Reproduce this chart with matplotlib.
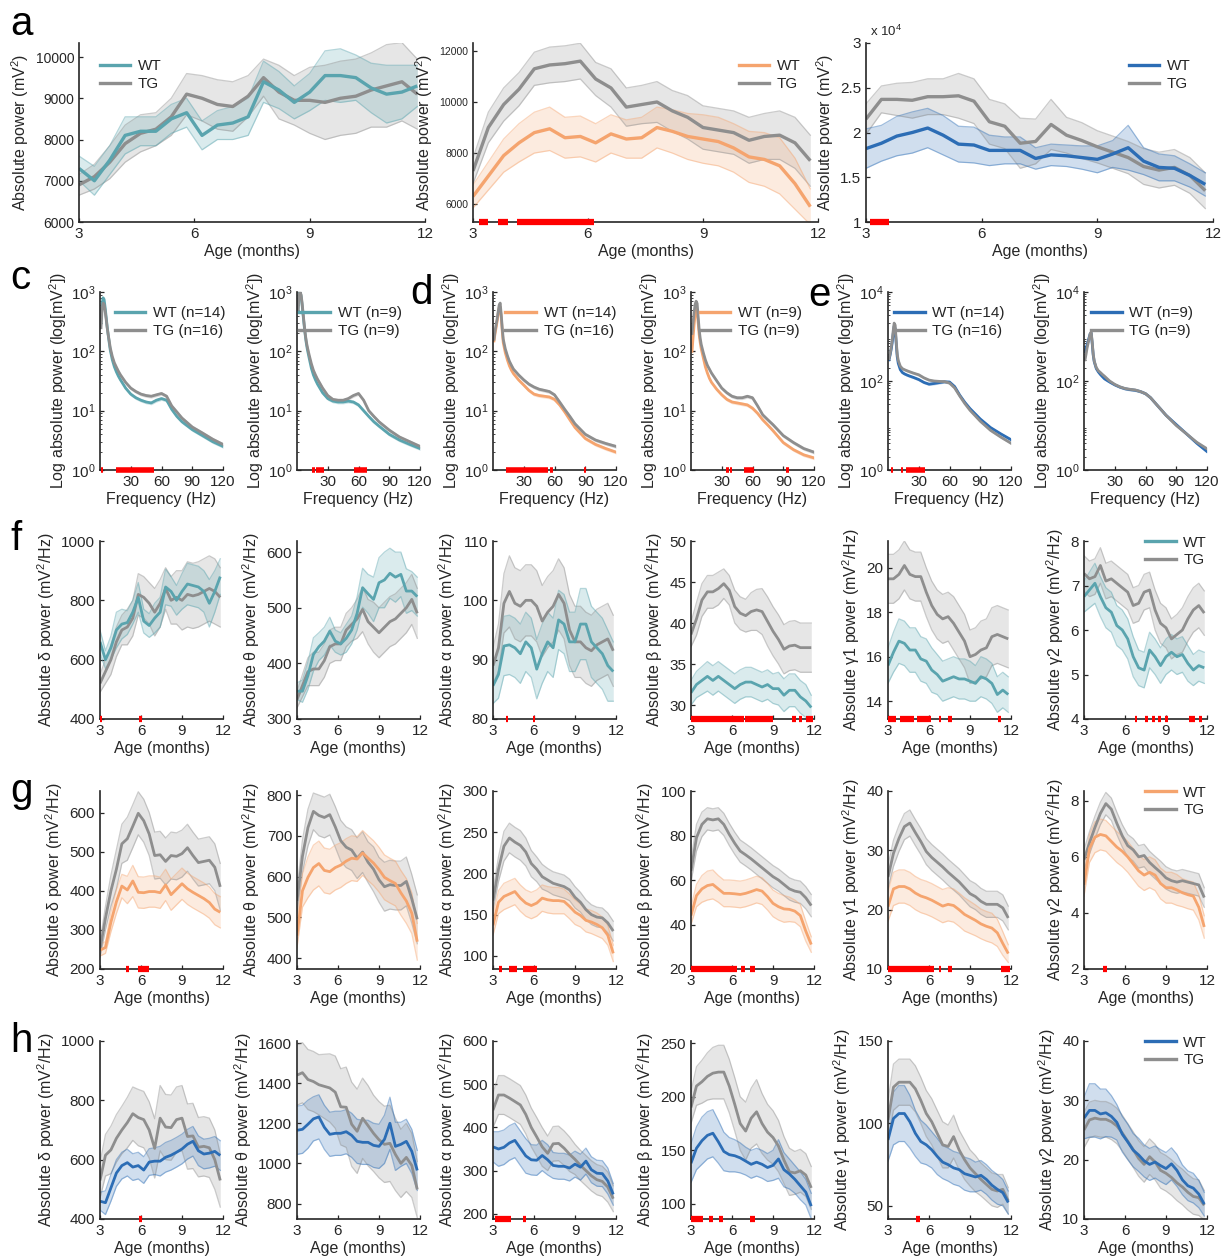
import numpy as np
import matplotlib
matplotlib.use("Agg")
import matplotlib.pyplot as plt
from matplotlib.lines import Line2D
from matplotlib.ticker import LogLocator, NullFormatter

plt.rcParams.update({
    "font.family": ["Liberation Sans", "DejaVu Sans"],
    "mathtext.fontset": "custom",
    "mathtext.rm": "Liberation Sans",
    "mathtext.it": "Liberation Sans:italic",
    "mathtext.bf": "Liberation Sans:bold",
    "axes.linewidth": 1.2,
    "axes.edgecolor": "#262626",
    "text.color": "#262626",
    "axes.labelcolor": "#262626",
    "xtick.color": "#262626",
    "ytick.color": "#262626",
    "xtick.direction": "in",
    "ytick.direction": "in",
    "xtick.major.size": 3,
    "ytick.major.size": 3,
    "xtick.minor.size": 1.5,
    "ytick.minor.size": 1.5,
    "xtick.major.width": 0.9,
    "ytick.major.width": 0.9,
    "font.size": 11,
    "axes.labelsize": 11.5,
    "xtick.labelsize": 11,
    "ytick.labelsize": 11,
})

TEAL = "#5aa4ae"
ORANGE = "#f5a46e"
BLUE = "#2c6db5"
GREY = "#8e8e8e"
RED = "#ff0000"

# ---------------------------------------------------------------- data
AGE = [3.0, 3.4, 3.8, 4.2, 4.6, 5.0, 5.4, 5.8, 6.2, 6.6, 7.0, 7.4,
       7.8, 8.2, 8.6, 9.0, 9.4, 9.8, 10.2, 10.6, 11.0, 11.4, 11.8]

# a: broadband absolute power (mV^2), mean and s.e.m.
A1_WT = [7300, 7000, 7500, 8100, 8200, 8200, 8500, 8650, 8100, 8350, 8400, 8550,
         9400, 9200, 8900, 9150, 9550, 9550, 9500, 9250, 9100, 9150, 9300]
A1_WT_E = [300, 350, 350, 450, 350, 350, 350, 350, 350, 350, 400, 450,
           500, 450, 400, 450, 600, 650, 550, 600, 700, 650, 500]
A1_TG = [6900, 7100, 7450, 7900, 8150, 8250, 8550, 9100, 9000, 8850, 8800, 9050,
         9500, 9150, 8950, 8950, 8900, 9000, 9050, 9200, 9300, 9400, 9100]
A1_TG_E = [250, 300, 400, 450, 450, 400, 450, 500, 550, 600, 600, 500,
           450, 650, 600, 800, 900, 900, 900, 900, 1000, 950, 850]
A1_SIG = []

A2_WT = [6300, 7100, 7900, 8400, 8800, 8950, 8600, 8650, 8400, 8750, 8550, 8600,
         9000, 8850, 8650, 8550, 8450, 8200, 7850, 7750, 7500, 6800, 5900]
A2_WT_E = [450, 550, 650, 750, 800, 850, 800, 800, 750, 750, 750, 800,
           800, 850, 900, 950, 950, 950, 1000, 1050, 1100, 1000, 700]
A2_TG = [7300, 9000, 9900, 10500, 11300, 11450, 11500, 11600, 10900, 10550, 9800, 9900,
         10000, 9650, 9400, 9000, 8900, 8800, 8500, 8650, 8700, 8400, 7700]
A2_TG_E = [500, 600, 650, 650, 650, 700, 700, 700, 650, 750, 750, 750,
           800, 800, 850, 850, 850, 850, 900, 900, 950, 1000, 1000]
A2_SIG = [(3.15, 3.4), (3.65, 3.9), (4.15, 6.15)]

# third panel in units of 10^4 mV^2
A3_WT = [1.82, 1.88, 1.96, 2.00, 2.05, 1.97, 1.87, 1.86, 1.80, 1.80, 1.80, 1.71,
         1.75, 1.74, 1.72, 1.70, 1.76, 1.83, 1.68, 1.61, 1.60, 1.52, 1.42]
A3_WT_E = [0.22, 0.20, 0.22, 0.23, 0.22, 0.22, 0.20, 0.20, 0.17, 0.15, 0.15, 0.12,
           0.12, 0.12, 0.13, 0.15, 0.15, 0.25, 0.15, 0.15, 0.14, 0.13, 0.13]
A3_TG = [2.15, 2.37, 2.37, 2.36, 2.40, 2.40, 2.41, 2.35, 2.12, 2.07, 1.88, 1.90,
         2.09, 1.97, 1.91, 1.84, 1.78, 1.72, 1.62, 1.58, 1.61, 1.52, 1.35]
A3_TG_E = [0.17, 0.15, 0.18, 0.20, 0.20, 0.20, 0.25, 0.25, 0.25, 0.25, 0.28, 0.25,
           0.28, 0.20, 0.20, 0.18, 0.18, 0.18, 0.20, 0.20, 0.20, 0.20, 0.20]
A3_SIG = [(3.1, 3.6)]

# c-e: power spectra
FREQ = [1, 2, 3, 4, 5, 6, 7, 8, 9, 10, 12, 14, 16, 18, 20, 25, 30, 35, 40, 45,
        50, 55, 60, 65, 70, 75, 80, 90, 100, 110, 120]
C1_WT = [300, 600, 800, 750, 550, 380, 260, 190, 140, 105, 72, 55, 45, 38, 33, 24, 19,
         16.5, 15, 14, 13.5, 15, 16, 15, 10.5, 8, 6.5, 4.8, 3.8, 3.0, 2.5]
C1_TG = [250, 500, 650, 620, 480, 350, 250, 190, 150, 115, 82, 64, 54, 46, 40, 30, 24,
         21, 19, 18, 17.5, 18.5, 19.5, 17.5, 12, 9.5, 7.5, 5.3, 4.2, 3.3, 2.7]
C1_SIG = [(0.5, 2.5), (15.5, 53)]
C2_WT = [500, 950, 1000, 850, 600, 400, 270, 190, 140, 110, 75, 52, 40, 33, 28, 20, 16,
         14.5, 14, 14, 14.5, 14, 12.5, 10, 8, 6.5, 5.5, 4.0, 3.2, 2.7, 2.3]
C2_TG = [450, 900, 1000, 900, 650, 430, 290, 200, 150, 120, 85, 62, 48, 40, 34, 24, 18,
         15.5, 15, 15, 16, 18, 19.5, 15, 10, 8, 6.5, 4.7, 3.6, 3.0, 2.5]
C2_SIG = [(15, 18), (19, 26), (56, 68)]
D1_WT = [150, 200, 250, 320, 420, 540, 560, 380, 220, 140, 95, 72, 57, 48, 42, 33, 27,
         22, 19, 18, 17.5, 17, 15.5, 12.5, 9.5, 7, 5.2, 3.4, 2.7, 2.3, 2.0]
D1_TG = [160, 220, 280, 350, 460, 600, 650, 420, 250, 160, 110, 85, 68, 58, 50, 40, 33,
         28, 25, 23, 22, 21, 18.5, 14, 10.5, 8, 6, 4, 3.2, 2.8, 2.5]
D1_SIG = [(12.3, 53.4), (56, 58.6), (88.3, 90.6)]
D2_WT = [100, 170, 280, 420, 510, 480, 300, 190, 140, 110, 78, 55, 43, 35, 30, 23, 18.5,
         15.5, 14, 13.5, 13, 12.5, 11, 9, 7, 5.7, 4.6, 2.9, 2.2, 1.8, 1.6]
D2_TG = [200, 300, 450, 620, 700, 640, 380, 230, 165, 130, 95, 72, 58, 50, 43, 32, 24,
         20, 17.5, 16.5, 16.5, 17.5, 16.5, 12, 8.5, 7, 5.8, 3.8, 2.9, 2.3, 2.0]
D2_SIG = [(34.2, 37.5), (38, 39.8), (51.8, 61.6), (92.6, 95.9)]
E1_WT = [300, 380, 500, 700, 1100, 1700, 1500, 700, 350, 250, 180, 155, 145, 138, 132,
         120, 108, 93, 85, 88, 92, 96, 95, 75, 48, 33, 24, 14, 9, 6.5, 4.8]
E1_TG = [320, 400, 550, 800, 1300, 2000, 1800, 800, 400, 290, 215, 190, 180, 172, 165,
         150, 138, 118, 105, 100, 98, 97, 90, 70, 46, 31, 22, 12.5, 7.8, 5.5, 4.0]
E1_SIG = [(3.3, 4.7), (12.3, 15), (17.3, 35.7)]
E2_WT = [450, 550, 650, 780, 950, 1150, 1200, 700, 380, 270, 190, 160, 140, 125, 112,
         95, 82, 73, 67, 64, 62, 58, 52, 42, 31, 23, 17, 10.5, 6.5, 4.0, 2.6]
E2_TG = [300, 400, 550, 700, 900, 1150, 1250, 750, 400, 280, 200, 170, 155, 140, 128,
         100, 84, 74, 68, 65, 63, 58, 52, 42, 31, 23, 17, 10, 6.5, 4.2, 3.0]
E2_SIG = []
SPEC_SEM = 0.07

# f: band power, first cohort
F1_WT = [660, 600, 640, 700, 720, 725, 760, 810, 730, 715, 740, 760,
         845, 830, 800, 830, 855, 850, 845, 830, 790, 830, 880]
F1_WT_E = [40, 30, 40, 60, 50, 40, 40, 50, 40, 40, 50, 50, 60, 50, 50, 60, 70, 70, 70, 70, 80, 70, 60]
F1_TG = [520, 560, 600, 660, 700, 710, 740, 820, 810, 790, 760, 790,
         840, 800, 810, 800, 820, 815, 820, 830, 840, 830, 810]
F1_TG_E = [30, 40, 50, 50, 50, 60, 60, 70, 70, 70, 80, 80, 70, 80, 90, 100, 110, 110, 110, 110, 110, 110, 100]
F1_SIG = [(3.0, 3.12), (5.85, 6.1)]

F2_WT = [350, 350, 378, 416, 430, 440, 458, 440, 435, 445, 460, 490,
         536, 525, 515, 545, 550, 562, 555, 560, 530, 530, 520]
F2_WT_E = [15, 20, 25, 30, 25, 25, 25, 20, 20, 25, 25, 30, 35, 35, 40, 45, 50, 45, 45, 40, 40, 35, 35]
F2_TG = [335, 360, 385, 390, 390, 405, 430, 435, 435, 460, 470, 480,
         497, 475, 465, 455, 465, 475, 480, 490, 500, 515, 490]
F2_TG_E = [15, 20, 25, 30, 30, 30, 30, 30, 30, 30, 30, 35, 40, 40, 45, 45, 45, 45, 45, 45, 45, 45, 45]
F2_SIG = []

F3_WT = [85.6, 87.5, 92.3, 92.5, 92, 91, 93, 92, 88.4, 91, 93, 92,
         96.7, 96, 93, 93, 96, 96, 93, 92, 91, 89, 88]
F3_WT_E = [3, 4, 5, 5, 5, 5, 5, 5, 5, 5, 5, 5, 5, 5, 5, 5, 6, 6, 6, 6, 6, 6, 5]
F3_TG = [89, 92, 99.5, 101.5, 99.5, 99, 100, 100, 99, 96.5, 98, 99,
         101, 99.5, 95, 93, 93, 92, 91.5, 92.5, 93, 93.5, 91.5]
F3_TG_E = [3, 4, 5, 6, 6, 6, 6, 6, 6, 6, 6, 6, 6, 6, 6, 6, 6, 6, 6, 6, 6, 6, 6]
F3_SIG = [(3.95, 4.1), (5.95, 6.1)]

F4_WT = [31.5, 32.5, 33, 33.5, 33, 33.5, 33, 32.5, 32, 32.5, 32.8, 32.8,
         32.5, 32.2, 32.5, 32, 32, 31.2, 31.8, 31.8, 31, 30.5, 29.7]
F4_WT_E = [1.5, 1.6, 1.7, 1.8, 1.8, 1.8, 1.8, 1.8, 1.8, 1.8, 1.8, 1.8,
           1.8, 1.8, 1.8, 1.8, 2, 2, 2, 2, 2, 2, 1.5]
F4_TG = [38.6, 40.5, 42.8, 43.8, 43.8, 44.2, 44.8, 44.0, 42.0, 41.2, 40.9, 41.4,
         41.6, 41.4, 40.2, 39.0, 38.0, 36.8, 37.2, 37.3, 37.0, 37.0, 37.0]
F4_TG_E = [1.5, 2, 2, 2, 2, 2, 1.8, 1.8, 2, 2, 2, 2.3, 2.5, 2.8, 3, 3, 3, 3, 3, 3, 3, 3, 3]
F4_SIG = [(3.0, 6.85), (6.95, 9.0), (10.4, 10.65), (10.9, 11.15), (11.4, 11.9)]

F5_WT = [15.6, 16.2, 16.7, 16.6, 16.3, 16.3, 15.9, 15.8, 15.4, 15.2, 14.9, 15.0,
         15.1, 15.0, 15.0, 14.9, 14.8, 15.1, 15.0, 14.8, 14.3, 14.5, 14.3]
F5_WT_E = [0.8, 0.9, 1.0, 1.0, 1.0, 1.0, 1.0, 1.0, 1.0, 0.9, 0.9, 0.9,
           0.9, 0.9, 0.9, 0.9, 0.8, 0.9, 0.9, 0.9, 0.8, 0.8, 0.8]
F5_TG = [19.5, 19.5, 19.7, 20.1, 19.7, 19.6, 19.6, 18.9, 18.3, 17.9, 17.7, 17.8,
         17.5, 17.1, 16.7, 16.0, 16.1, 16.3, 16.4, 16.9, 17.0, 16.9, 16.8]
F5_TG_E = [1.1, 1.1, 1.1, 1.1, 1.1, 1.1, 1.1, 1.1, 1.1, 1.1, 1.1, 1.1,
           1.2, 1.2, 1.2, 1.2, 1.2, 1.3, 1.3, 1.3, 1.3, 1.3, 1.3]
F5_SIG = [(3.0, 3.6), (3.9, 4.9), (5.15, 6.15), (6.7, 6.85), (7.4, 7.65), (11.05, 11.25)]

F6_WT = [6.75, 6.9, 7.05, 6.75, 6.5, 6.4, 6.1, 6.0, 5.8, 5.4, 5.15, 5.1,
         5.55, 5.4, 5.2, 5.4, 5.5, 5.4, 5.45, 5.25, 5.1, 5.2, 5.15]
F6_WT_E = [0.35, 0.4, 0.45, 0.45, 0.45, 0.45, 0.45, 0.45, 0.45, 0.45, 0.4, 0.4,
           0.4, 0.4, 0.4, 0.4, 0.4, 0.4, 0.4, 0.4, 0.35, 0.35, 0.35]
F6_TG = [7.27, 7.15, 7.2, 7.45, 7.1, 7.15, 7.05, 6.95, 6.85, 6.55, 6.6, 6.85,
         6.9, 6.45, 6.15, 6.05, 5.8, 5.9, 6.0, 6.25, 6.45, 6.55, 6.38]
F6_TG_E = [0.4, 0.4, 0.4, 0.4, 0.4, 0.4, 0.4, 0.4, 0.4, 0.4, 0.4, 0.4,
           0.4, 0.45, 0.45, 0.45, 0.45, 0.45, 0.5, 0.5, 0.5, 0.5, 0.5]
F6_SIG = [(6.7, 6.9), (7.45, 7.65), (7.95, 8.2), (8.45, 8.65), (8.9, 9.15),
          (10.7, 11.15), (11.4, 11.65)]

# g: band power, second cohort
G1_WT = [248, 255, 320, 372, 412, 402, 425, 396, 395, 398, 398, 395,
         415, 390, 404, 418, 405, 396, 388, 380, 370, 353, 345]
G1_WT_E = [15, 15, 25, 30, 30, 35, 40, 40, 40, 40, 40, 40, 40, 40, 40, 40, 40, 40, 40, 40, 40, 40, 40]
G1_TG = [250, 330, 400, 455, 520, 533, 565, 598, 579, 545, 490, 492,
         475, 490, 488, 495, 510, 490, 472, 475, 478, 460, 410]
G1_TG_E = [20, 30, 40, 50, 50, 55, 55, 55, 55, 55, 60, 60, 60, 60, 60, 60, 60, 60, 60, 60, 60, 60, 60]
G1_SIG = [(4.9, 5.1), (5.8, 6.6)]

G2_WT = [455, 565, 598, 622, 632, 615, 612, 622, 628, 638, 645, 643,
         658, 645, 633, 617, 598, 590, 583, 560, 540, 510, 440]
G2_WT_E = [30, 40, 50, 55, 55, 55, 55, 55, 55, 55, 55, 55, 55, 55, 55, 55, 55, 55, 55, 55, 55, 50, 45]
G2_TG = [540, 650, 720, 760, 750, 745, 752, 722, 688, 672, 665, 645,
         660, 635, 618, 592, 575, 580, 578, 578, 588, 545, 495]
G2_TG_E = [30, 40, 45, 45, 50, 50, 50, 50, 50, 50, 50, 50, 50, 50, 55, 55, 60, 60, 60, 60, 60, 60, 60]
G2_SIG = []

G3_WT = [137, 165, 172, 175, 178, 170, 164, 161, 164, 170, 168, 167,
         167, 166, 160, 153, 149, 143, 141, 138, 134, 125, 103]
G3_WT_E = [12, 14, 16, 16, 16, 16, 16, 16, 16, 16, 16, 16, 16, 15, 15, 15, 14, 14, 14, 14, 13, 12, 10]
G3_TG = [167, 205, 233, 243, 238, 234, 226, 212, 205, 196, 192, 188,
         186, 184, 180, 171, 165, 156, 150, 147, 146, 140, 130]
G3_TG_E = [12, 15, 18, 18, 18, 18, 17, 16, 15, 15, 14, 14, 14, 14, 13, 13, 12, 12, 12, 12, 12, 12, 12]
G3_SIG = [(3.44, 3.67), (4.16, 4.74), (5.18, 6.19)]

G4_WT = [44, 53, 56, 57.5, 58, 56, 54, 54, 53.8, 53.5, 54, 54.8,
         55.7, 55, 52.5, 49.5, 48, 47, 46.8, 46, 44, 37, 31]
G4_WT_E = [4, 5, 6, 6.5, 6.5, 6, 6, 6, 6, 6, 6, 6, 6, 6, 6, 6, 6, 6, 5.5, 5, 5, 4.5, 3.5]
G4_TG = [64, 79, 85, 87.5, 87, 87.5, 85, 80.5, 76.5, 73, 71.3, 69.5,
         67.5, 65.5, 63.5, 61.5, 60, 58, 56, 55, 54.5, 52, 48.5]
G4_TG_E = [5, 6, 5.5, 5, 5, 5, 5, 5, 5, 5, 5, 5, 5, 5, 5, 5, 5, 5, 5, 5, 5, 5, 5]
G4_SIG = [(3.0, 6.34), (6.63, 6.92), (7.35, 7.65)]

G5_WT = [20.5, 23.5, 23.9, 23.9, 23.5, 22.8, 22.3, 22, 21.6, 21.1, 20.6, 20.9,
         20.7, 20, 19.2, 18.7, 18.2, 17.6, 17.2, 16.9, 16.1, 14.3, 12.6]
G5_WT_E = [2.5, 2.8, 2.8, 2.8, 2.8, 2.8, 2.8, 2.8, 2.8, 2.8, 2.8, 2.8,
           2.8, 2.8, 2.8, 2.7, 2.6, 2.5, 2.5, 2.5, 2.3, 2.0, 1.5]
G5_TG = [25.5, 29.5, 32, 34, 34.6, 33, 31.5, 29.8, 28.8, 28, 27.2, 26.3,
         25.5, 24.7, 23.7, 22.7, 22.2, 21.4, 20.9, 20.9, 20.9, 20.3, 18.6]
G5_TG_E = [2, 2.2, 2.2, 2.2, 2.2, 2.2, 2.2, 2.2, 2.2, 2.2, 2.2, 2.2,
           2.2, 2.2, 2.2, 2.2, 2.2, 2.2, 2.2, 2.2, 2.2, 2.2, 2]
G5_SIG = [(3.0, 6.4), (6.7, 6.9), (7.4, 7.65), (11.25, 11.95)]

G6_WT = [5.0, 6.3, 6.7, 6.8, 6.75, 6.55, 6.35, 6.2, 6.0, 5.75, 5.5, 5.35,
         5.45, 5.35, 5.05, 4.9, 4.9, 4.82, 4.72, 4.65, 4.6, 4.2, 3.5]
G6_WT_E = [0.4, 0.5, 0.55, 0.55, 0.55, 0.55, 0.55, 0.55, 0.55, 0.55, 0.55, 0.55,
           0.55, 0.55, 0.55, 0.55, 0.55, 0.55, 0.5, 0.5, 0.5, 0.45, 0.4]
G6_TG = [5.9, 6.5, 7.05, 7.55, 7.9, 7.7, 7.2, 6.75, 6.4, 6.25, 6.0, 6.05,
         5.8, 5.62, 5.45, 5.25, 5.15, 5.1, 5.15, 5.1, 5.05, 5.0, 4.55]
G6_TG_E = [0.35, 0.4, 0.4, 0.4, 0.4, 0.4, 0.4, 0.4, 0.4, 0.4, 0.4, 0.4,
           0.4, 0.4, 0.4, 0.4, 0.4, 0.4, 0.4, 0.4, 0.4, 0.4, 0.35]
G6_SIG = [(4.37, 4.66)]

# h: band power, third cohort
H1_WT = [460, 455, 505, 555, 580, 590, 575, 580, 565, 592, 595, 595,
         608, 615, 625, 636, 652, 662, 630, 619, 622, 628, 614]
H1_WT_E = [30, 40, 45, 45, 45, 45, 45, 45, 45, 45, 45, 50, 50, 50, 50, 50, 50, 50, 50, 50, 50, 50, 50]
H1_TG = [530, 615, 633, 672, 700, 725, 755, 742, 735, 700, 638, 740,
         710, 708, 735, 740, 678, 680, 642, 645, 640, 600, 530]
H1_TG_E = [60, 70, 80, 80, 80, 85, 90, 95, 95, 95, 100, 110, 110, 110, 110, 110, 110, 110, 100, 100, 100, 100, 90]
H1_SIG = [(5.82, 6.05)]

H2_WT = [1165, 1170, 1195, 1222, 1232, 1180, 1145, 1150, 1150, 1158, 1140, 1110,
         1105, 1105, 1090, 1085, 1120, 1200, 1085, 1095, 1110, 1060, 965]
H2_WT_E = [120, 120, 120, 110, 110, 110, 110, 110, 110, 110, 110, 110,
           110, 110, 110, 110, 120, 130, 120, 110, 110, 110, 100]
H2_TG = [1440, 1452, 1418, 1408, 1392, 1384, 1376, 1355, 1282, 1280, 1195, 1160,
         1225, 1188, 1150, 1118, 1095, 1100, 1045, 1000, 1030, 990, 870]
H2_TG_E = [150, 150, 150, 150, 150, 160, 170, 180, 190, 200, 210, 210,
           200, 200, 190, 190, 190, 190, 180, 170, 170, 160, 140]
H2_SIG = []

H3_WT = [355, 350, 354, 364, 370, 352, 334, 325, 324, 335, 325, 312,
         310, 310, 306, 315, 308, 322, 302, 294, 293, 276, 245]
H3_WT_E = [35, 40, 40, 40, 40, 40, 40, 35, 35, 35, 35, 30, 30, 30, 30, 30, 30, 30, 30, 30, 30, 30, 25]
H3_TG = [440, 475, 475, 468, 460, 452, 430, 400, 378, 355, 340, 362,
         363, 352, 338, 326, 312, 300, 288, 279, 275, 262, 235]
H3_TG_E = [40, 45, 45, 45, 45, 45, 45, 45, 45, 45, 40, 40, 40, 40, 40, 35, 35, 35, 35, 35, 35, 35, 30]
H3_SIG = [(3.15, 4.3), (5.2, 5.45)]

H4_WT = [138, 152, 159, 164, 166, 158, 149, 146, 145, 143, 140, 137,
         139, 137, 134, 136, 142, 132, 128, 123, 117, 111, 98]
H4_WT_E = [18, 20, 22, 22, 22, 20, 18, 16, 15, 14, 13, 13, 13, 13, 13, 14, 18, 16, 14, 13, 13, 12, 12]
H4_TG = [190, 210, 214, 219, 222, 223, 223, 210, 193, 175, 168, 180,
         186, 175, 167, 162, 154, 141, 130, 129, 131, 127, 115]
H4_TG_E = [15, 18, 20, 22, 24, 25, 25, 25, 25, 25, 27, 28, 30, 28, 26, 25, 24, 22, 22, 20, 20, 20, 20]
H4_SIG = [(3.0, 3.87), (4.3, 4.6), (5.03, 5.32), (7.35, 7.65)]

H5_WT = [90, 103, 106, 106, 101, 94, 89, 87, 84, 80, 76.5, 75,
         73, 72, 69.5, 68.5, 67.5, 68.5, 66, 62.5, 60, 58, 52]
H5_WT_E = [13, 16, 17, 17, 16, 14, 13, 12, 11, 11, 10, 10, 10, 10, 10, 10, 9, 9, 9, 9, 9, 8, 7]
H5_TG = [102, 122, 125, 125, 125, 121, 114, 106, 101, 94, 87, 86,
         92, 84, 78, 73, 69.5, 66, 63, 60, 59, 60, 53]
H5_TG_E = [12, 14, 14, 14, 14, 14, 14, 14, 14, 14, 14, 13, 13, 12, 12, 11, 11, 10, 10, 10, 10, 9, 8]
H5_SIG = [(5.07, 5.36)]

H6_WT = [27, 28.3, 28.3, 27.7, 27.9, 27.3, 26.3, 24.3, 23.0, 21.6, 20.8, 19.8,
         19.2, 19.6, 19.0, 18.5, 19.3, 18.2, 16.6, 15.6, 15.2, 14.2, 12.5]
H6_WT_E = [3.5, 4.5, 4.5, 4.2, 4, 3.5, 3, 3, 3, 2.8, 2.8, 2.7,
           2.7, 2.7, 2.7, 2.7, 2.7, 2.7, 2.5, 2.5, 2.5, 2.3, 2.0]
H6_TG = [25, 26.7, 27, 26.8, 26.8, 26.4, 25.7, 24.5, 23.1, 21.7, 20.2, 19.2,
         20.5, 19.6, 18.2, 17.7, 17, 16.1, 15.4, 14.5, 13.8, 13.6, 12.3]
H6_TG_E = [3, 3, 3, 3, 3, 3, 3, 3, 3, 3, 3, 3, 3, 3, 3, 3, 3, 3, 3, 3, 3, 3, 2.5]
H6_SIG = []

BAND_LABELS = ["Absolute δ power (mV$^2$/Hz)", "Absolute θ power (mV$^2$/Hz)",
               "Absolute α power (mV$^2$/Hz)", "Absolute β power (mV$^2$/Hz)",
               "Absolute γ1 power (mV$^2$/Hz)", "Absolute γ2 power (mV$^2$/Hz)"]

# ---------------------------------------------------------------- figure
W, H = 1228, 1258
fig = plt.figure(figsize=(W / 100, H / 100), dpi=100)
fig.patch.set_facecolor("white")


def add_axes(left, top, width, height):
    return fig.add_axes([left / W, 1 - (top + height) / H, width / W, height / H])


def clean(ax):
    for s in ("top", "right"):
        ax.spines[s].set_visible(False)


def band(ax, x, mean, err, color):
    m = np.asarray(mean, float)
    e = np.asarray(err, float)
    ax.fill_between(x, m - e, m + e, color=color, alpha=0.22, lw=0)
    ax.plot(x, m - e, color=color, alpha=0.45, lw=0.9)
    ax.plot(x, m + e, color=color, alpha=0.45, lw=0.9)


def age_panel(ax, wt, wt_e, tg, tg_e, color, sig, ylim, yticks, ylabel, lw=2.0):
    x = np.asarray(AGE)
    band(ax, x, tg, tg_e, GREY)
    band(ax, x, wt, wt_e, color)
    ax.plot(x, tg, color=GREY, lw=lw, solid_capstyle="butt")
    ax.plot(x, wt, color=color, lw=lw, solid_capstyle="butt")
    for s, e in sig:
        ax.plot([s, e], [ylim[0], ylim[0]], color=RED, lw=4.5,
                solid_capstyle="butt", clip_on=False, zorder=6)
    ax.set_xlim(3, 12)
    ax.set_ylim(*ylim)
    ax.set_xticks([3, 6, 9, 12])
    ax.set_yticks(yticks)
    ax.set_xlabel("Age (months)", labelpad=2)
    ax.set_ylabel(ylabel, labelpad=3)
    clean(ax)


def legend(ax, color, labels, **kw):
    handles = [Line2D([], [], color=color, lw=2.4), Line2D([], [], color=GREY, lw=2.4)]
    ax.legend(handles, labels, frameon=False, handlelength=2.0, handletextpad=0.5,
              labelspacing=0.25, borderaxespad=0, borderpad=0, **kw)


# ---- row a
ax = add_axes(79, 43, 346, 179)
age_panel(ax, A1_WT, A1_WT_E, A1_TG, A1_TG_E, TEAL, A1_SIG, (6000, 10340),
          [6000, 7000, 8000, 9000, 10000], "Absolute power (mV$^2$)", lw=2.4)
ax.tick_params(axis="y", labelsize=10)
legend(ax, TEAL, ["WT", "TG"], loc="upper left", bbox_to_anchor=(0.06, 0.91))

ax = add_axes(473, 43, 345, 179)
age_panel(ax, A2_WT, A2_WT_E, A2_TG, A2_TG_E, ORANGE, A2_SIG, (5300, 12310),
          [6000, 8000, 10000, 12000], "Absolute power (mV$^2$)", lw=2.4)
ax.tick_params(axis="y", labelsize=7.5)
legend(ax, ORANGE, ["WT", "TG"], loc="upper right", bbox_to_anchor=(0.95, 0.91))

ax = add_axes(866, 43, 347, 179)
age_panel(ax, A3_WT, A3_WT_E, A3_TG, A3_TG_E, BLUE, A3_SIG, (1, 3),
          [1, 1.5, 2, 2.5, 3], "Absolute power (mV$^2$)", lw=2.4)
ax.set_yticklabels(["1", "1.5", "2", "2.5", "3"])
ax.text(0.012, 1.025, "x 10$^4$", transform=ax.transAxes, fontsize=9.5,
        ha="left", va="bottom")
legend(ax, BLUE, ["WT", "TG"], loc="upper right", bbox_to_anchor=(0.935, 0.91))

# ---- rows c-e: spectra
COL_LEFT = [100, 297, 493, 691, 888, 1084]
COL_W = 123

SPECTRA = [
    (C1_WT, C1_TG, TEAL, C1_SIG, (1, 1000), ["WT (n=14)", "TG (n=16)"], 1.02),
    (C2_WT, C2_TG, TEAL, C2_SIG, (1, 1000), ["WT (n=9)", "TG (n=9)"], 0.85),
    (D1_WT, D1_TG, ORANGE, D1_SIG, (1, 1000), ["WT (n=14)", "TG (n=16)"], 1.0),
    (D2_WT, D2_TG, ORANGE, D2_SIG, (1, 1000), ["WT (n=9)", "TG (n=9)"], 0.9),
    (E1_WT, E1_TG, BLUE, E1_SIG, (1, 10000), ["WT (n=14)", "TG (n=16)"], 0.95),
    (E2_WT, E2_TG, BLUE, E2_SIG, (1, 10000), ["WT (n=9)", "TG (n=9)"], 0.89),
]

for i, (wt, tg, color, sig, ylim, labels, lx) in enumerate(SPECTRA):
    ax = add_axes(COL_LEFT[i], 292, COL_W, 178)
    f = np.asarray(FREQ, float)
    for m, c in ((wt, color), (tg, GREY)):
        m = np.asarray(m, float)
        ax.fill_between(f, m * (1 - SPEC_SEM), m * (1 + SPEC_SEM), color=c, alpha=0.3, lw=0)
        ax.plot(f, m, color=c, lw=2.0)
    ax.set_yscale("log")
    ax.set_xlim(0, 120)
    ax.set_ylim(*ylim)
    for s, e in sig:
        ax.plot([s, e], [ylim[0], ylim[0]], color=RED, lw=4.0,
                solid_capstyle="butt", clip_on=False, zorder=6)
    ax.set_xticks([30, 60, 90, 120])
    if ylim[1] > 1000:
        ax.set_yticks([1, 100, 10000])
    else:
        ax.set_yticks([1, 10, 100, 1000])
    ax.yaxis.set_minor_locator(LogLocator(base=10, subs=np.arange(2, 10), numticks=20))
    ax.yaxis.set_minor_formatter(NullFormatter())
    ax.set_xlabel("Frequency (Hz)", labelpad=2)
    ax.set_ylabel("Log absolute power (log[mV$^2$])", labelpad=1)
    clean(ax)
    legend(ax, color, labels, loc="upper right", bbox_to_anchor=(lx, 0.92))

# ---- rows f-h: band power over age
ROWS = [
    (541, TEAL, [
        (F1_WT, F1_WT_E, F1_TG, F1_TG_E, F1_SIG, (400, 1000), [400, 600, 800, 1000]),
        (F2_WT, F2_WT_E, F2_TG, F2_TG_E, F2_SIG, (300, 620), [300, 400, 500, 600]),
        (F3_WT, F3_WT_E, F3_TG, F3_TG_E, F3_SIG, (80, 110), [80, 90, 100, 110]),
        (F4_WT, F4_WT_E, F4_TG, F4_TG_E, F4_SIG, (28.3, 50), [30, 35, 40, 45, 50]),
        (F5_WT, F5_WT_E, F5_TG, F5_TG_E, F5_SIG, (13.2, 21.2), [14, 16, 18, 20]),
        (F6_WT, F6_WT_E, F6_TG, F6_TG_E, F6_SIG, (4, 8), [4, 5, 6, 7, 8]),
    ]),
    (791, ORANGE, [
        (G1_WT, G1_WT_E, G1_TG, G1_TG_E, G1_SIG, (200, 655), [200, 300, 400, 500, 600]),
        (G2_WT, G2_WT_E, G2_TG, G2_TG_E, G2_SIG, (373, 810), [400, 500, 600, 700, 800]),
        (G3_WT, G3_WT_E, G3_TG, G3_TG_E, G3_SIG, (84, 300), [100, 150, 200, 250, 300]),
        (G4_WT, G4_WT_E, G4_TG, G4_TG_E, G4_SIG, (20, 100), [20, 40, 60, 80, 100]),
        (G5_WT, G5_WT_E, G5_TG, G5_TG_E, G5_SIG, (10, 40), [10, 20, 30, 40]),
        (G6_WT, G6_WT_E, G6_TG, G6_TG_E, G6_SIG, (2, 8.35), [2, 4, 6, 8]),
    ]),
    (1041, BLUE, [
        (H1_WT, H1_WT_E, H1_TG, H1_TG_E, H1_SIG, (400, 1000), [400, 600, 800, 1000]),
        (H2_WT, H2_WT_E, H2_TG, H2_TG_E, H2_SIG, (723, 1610), [800, 1000, 1200, 1400, 1600]),
        (H3_WT, H3_WT_E, H3_TG, H3_TG_E, H3_SIG, (188, 600), [200, 300, 400, 500, 600]),
        (H4_WT, H4_WT_E, H4_TG, H4_TG_E, H4_SIG, (86, 252), [100, 150, 200, 250]),
        (H5_WT, H5_WT_E, H5_TG, H5_TG_E, H5_SIG, (42, 150), [50, 100, 150]),
        (H6_WT, H6_WT_E, H6_TG, H6_TG_E, H6_SIG, (10, 40), [10, 20, 30, 40]),
    ]),
]

for top, color, panels in ROWS:
    for i, (wt, wt_e, tg, tg_e, sig, ylim, yticks) in enumerate(panels):
        ax = add_axes(COL_LEFT[i], top, COL_W, 178)
        age_panel(ax, wt, wt_e, tg, tg_e, color, sig, ylim, yticks, BAND_LABELS[i])
        if i == 5:
            legend(ax, color, ["WT", "TG"], loc="upper right", bbox_to_anchor=(1.0, 1.03))

# ---- panel letters
for letter, x, y in [("a", 10, 35), ("c", 10, 289), ("d", 410, 304), ("e", 808, 306),
                     ("f", 10, 550), ("g", 10, 802), ("h", 10, 1052)]:
    fig.text(x / W, 1 - y / H, letter, fontsize=29, ha="left", va="baseline", color="black")

fig.savefig("out.png", dpi=100, facecolor="white")
